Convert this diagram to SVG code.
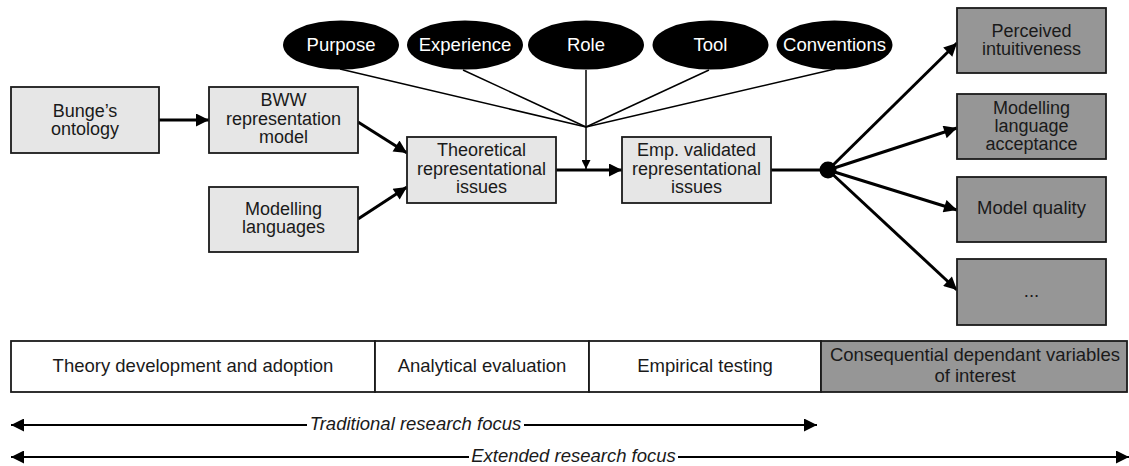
<svg xmlns="http://www.w3.org/2000/svg" width="1129" height="466" viewBox="0 0 1129 466">
<style>
text{font-family:"Liberation Sans",Arial,sans-serif;font-size:18px;fill:#1a1a1a;text-anchor:middle}
.big{font-size:18.5px}
.lt{fill:#e6e6e6;stroke:#1a1a1a;stroke-width:1.8}
.dk{fill:#969696;stroke:#1a1a1a;stroke-width:1.8}
.wh{fill:#ffffff;stroke:#1a1a1a;stroke-width:1.8}
.el{fill:#000000}
.el text{fill:#ffffff;font-size:18.5px}
.thick{stroke:#000;stroke-width:3;fill:none}
.thin{stroke:#000;stroke-width:1.5;fill:none}
.axis{stroke:#000;stroke-width:1.8;fill:none}
.it{font-style:italic;font-size:18.5px}
</style>
<defs>
<marker id="ah" viewBox="0 0 10 10" refX="10" refY="5" markerUnits="userSpaceOnUse" markerWidth="15" markerHeight="13" orient="auto"><path d="M0,0 L10,5 L0,10 z" fill="#000"/></marker>
<marker id="ahs" viewBox="0 0 10 10" refX="10" refY="5" markerUnits="userSpaceOnUse" markerWidth="15" markerHeight="13" orient="auto-start-reverse"><path d="M0,0 L10,5 L0,10 z" fill="#000"/></marker>
<marker id="ahsm" viewBox="0 0 10 10" refX="10" refY="5" markerUnits="userSpaceOnUse" markerWidth="10" markerHeight="9" orient="auto"><path d="M0,0 L10,5 L0,10 z" fill="#000"/></marker>
</defs>

<g id="connectors">
<line class="thin" x1="340" y1="69" x2="586" y2="127"/>
<line class="thin" x1="463" y1="70" x2="586" y2="127"/>
<line class="thin" x1="586" y1="70" x2="586" y2="127"/>
<line class="thin" x1="709" y1="70" x2="586" y2="127"/>
<line class="thin" x1="835" y1="69" x2="586" y2="127"/>
<line class="thin" x1="586" y1="127" x2="586" y2="169" marker-end="url(#ahsm)"/>
<line class="thick" x1="159" y1="120" x2="209" y2="120" marker-end="url(#ah)"/>
<line class="thick" x1="358" y1="122" x2="407" y2="153" marker-end="url(#ah)"/>
<line class="thick" x1="358" y1="219" x2="407" y2="187" marker-end="url(#ah)"/>
<line class="thick" x1="556" y1="170" x2="622" y2="170" marker-end="url(#ah)"/>
<line class="thick" x1="771" y1="170" x2="828" y2="170"/>
<line class="thick" x1="828" y1="170" x2="957" y2="43" marker-end="url(#ah)"/>
<line class="thick" x1="828" y1="170" x2="957" y2="128" marker-end="url(#ah)"/>
<line class="thick" x1="828" y1="170" x2="957" y2="210" marker-end="url(#ah)"/>
<line class="thick" x1="828" y1="170" x2="957" y2="290" marker-end="url(#ah)"/>
<circle cx="828" cy="170" r="8.5" fill="#000"/>
<line class="axis" x1="11" y1="425" x2="307" y2="425" marker-start="url(#ahs)"/>
<line class="axis" x1="524" y1="425" x2="817" y2="425" marker-end="url(#ah)"/>
<line class="axis" x1="11" y1="457" x2="469" y2="457" marker-start="url(#ahs)"/>
<line class="axis" x1="678" y1="457" x2="1129" y2="457" marker-end="url(#ah)"/>
<text class="it" x="415.5" y="430">Traditional research focus</text>
<text class="it" x="573.5" y="462">Extended research focus</text>
</g>

<g id="purpose" class="el"><ellipse cx="341" cy="45" rx="58" ry="24.5"/><text x="341" y="51">Purpose</text></g>
<g id="experience" class="el"><ellipse cx="465" cy="45" rx="58" ry="24.5"/><text x="465" y="51">Experience</text></g>
<g id="role" class="el"><ellipse cx="586" cy="45" rx="58" ry="24.5"/><text x="586" y="51">Role</text></g>
<g id="tool" class="el"><ellipse cx="710.5" cy="45" rx="58" ry="24.5"/><text x="710.5" y="51">Tool</text></g>
<g id="conventions" class="el"><ellipse cx="834.5" cy="45" rx="58" ry="24.5"/><text x="834.5" y="51">Conventions</text></g>

<g id="bunge"><rect class="lt" x="11" y="87" width="148" height="66"/><text x="85" y="117">Bunge’s</text><text x="85" y="135">ontology</text></g>
<g id="bww"><rect class="lt" x="209" y="87" width="149" height="66"/><text x="283.5" y="106">BWW</text><text x="283.5" y="124.5">representation</text><text x="283.5" y="143">model</text></g>
<g id="modelling-languages"><rect class="lt" x="209" y="187" width="149" height="65"/><text x="283.5" y="214.5">Modelling</text><text x="283.5" y="232.5">languages</text></g>
<g id="theoretical"><rect class="lt" x="407" y="137" width="149" height="66"/><text x="481.5" y="156">Theoretical</text><text x="481.5" y="174.5">representational</text><text x="481.5" y="192.5">issues</text></g>
<g id="emp-validated"><rect class="lt" x="622" y="137" width="149" height="66"/><text x="696.5" y="156">Emp. validated</text><text x="696.5" y="174.5">representational</text><text x="696.5" y="192.5">issues</text></g>

<g id="perceived"><rect class="dk" x="957" y="8" width="149" height="65"/><text x="1031.5" y="36.5">Perceived</text><text x="1031.5" y="54.5">intuitiveness</text></g>
<g id="acceptance"><rect class="dk" x="957" y="94" width="149" height="65"/><text x="1031.5" y="113.5">Modelling</text><text x="1031.5" y="131.5">language</text><text x="1031.5" y="149.5">acceptance</text></g>
<g id="model-quality"><rect class="dk" x="957" y="177" width="149" height="65"/><text class="big" x="1031.5" y="214">Model quality</text></g>
<g id="more"><rect class="dk" x="957" y="259" width="149" height="66"/><text class="big" x="1031.5" y="297">...</text></g>

<g id="phase-bar">
<rect class="wh" x="11" y="341" width="364" height="51"/>
<rect class="wh" x="375" y="341" width="214" height="51"/>
<rect class="wh" x="589" y="341" width="232" height="51"/>
<rect class="dk" x="821" y="341" width="306" height="51"/>
<text class="big" x="193" y="372">Theory development and adoption</text>
<text class="big" x="482" y="372">Analytical evaluation</text>
<text class="big" x="705" y="372">Empirical testing</text>
<text class="big" x="975" y="360.5">Consequential dependant variables</text>
<text class="big" x="975" y="381.5">of interest</text>
</g>
</svg>
